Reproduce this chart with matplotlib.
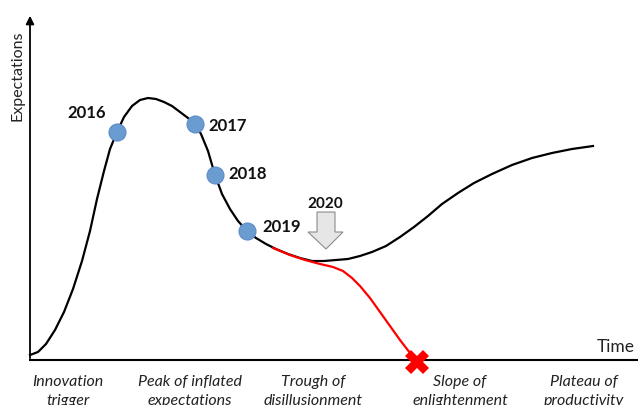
import matplotlib.pyplot as plt
from matplotlib.patches import Polygon

# curva do hype (coordenadas em pixels da figura)
curva_x = [30, 38, 46, 55, 64, 73, 82, 90, 97, 104, 110, 117, 124, 132, 140, 148, 156, 164, 172,
           180, 188, 195, 201, 208, 215, 222, 230, 238, 247, 256, 266, 276, 288, 300, 312, 324,
           336, 348, 360, 372, 386, 400, 414, 428, 442, 458, 474, 492, 512, 532, 552, 572, 593]
curva_y = [356, 353, 345, 331, 313, 290, 262, 232, 200, 172, 150, 133, 118, 107, 101, 99, 100, 103, 107,
           113, 119, 125, 135, 152, 176, 195, 210, 222, 232, 239, 245, 250, 255, 259, 262, 262,
           261, 260, 257, 253, 247, 238, 228, 217, 205, 194, 184, 175, 166, 159, 154, 150, 147]

# cenario alternativo (queda)
queda_x = [273, 290, 305, 320, 333, 343, 352, 360, 370, 380, 390, 400, 410, 417]
queda_y = [249, 256, 261, 265, 268, 272, 279, 287, 299, 313, 327, 341, 354, 363]

anos = ["2016", "2017", "2018", "2019"]
anos_x = [117, 195, 215, 247]
anos_y = [133, 125, 176, 232]
rot_x = [87, 228, 248, 282]
rot_y = [113, 126, 174, 227]

fases = ["Innovation\ntrigger", "Peak of inflated\nexpectations", "Trough of\ndisillusionment",
         "Slope of\nenlightenment", "Plateau of\nproductivity"]
fases_x = [68, 190, 313, 460, 584]

plt.rcParams['font.family'] = ['Lato', 'DejaVu Sans']

fig = plt.figure(figsize=(6.38, 4.06), dpi=100)
ax = fig.add_axes([0, 0, 1, 1])
ax.set_xlim(0, 638)
ax.set_ylim(406, 0)
ax.axis("off")

# eixos
ax.annotate("", xy=(30, 14), xytext=(30, 362),
            arrowprops=dict(arrowstyle="-|>", color="black", lw=1.3, mutation_scale=12))
ax.plot([29, 638], [361, 361], color="black", lw=1.5, solid_capstyle="butt")
ax.text(18, 76, "Expectations", rotation=90, ha="center", va="center", fontsize=11.5, color="#222222")
ax.text(635, 347, "Time", ha="right", va="center", fontsize=12.5, color="#222222")

# curvas
ax.plot(curva_x, curva_y, color="black", lw=1.6, zorder=2)
ax.plot(queda_x, queda_y, color="red", lw=1.6, zorder=3)
ax.plot(queda_x[-1], queda_y[-1], marker="X", color="red", markersize=17, zorder=4, mew=0)

# pontos dos anos
ax.scatter(anos_x, anos_y, s=150, color="#6a9bd1", edgecolor="#5b8cc4", lw=0.8, zorder=5)
for t, x, y in zip(anos, rot_x, rot_y):
    ax.text(x, y, t, ha="center", va="center", fontsize=12, fontweight="bold", color="#111111")

# seta 2020
seta = Polygon([(317, 213), (335, 213), (335, 233), (343, 233), (326, 250), (308, 233), (317, 233)],
               closed=True, facecolor="#e6e6e6", edgecolor="#8c8c8c", lw=0.8, zorder=3)
ax.add_patch(seta)
ax.text(325, 204, "2020", ha="center", va="center", fontsize=11, fontweight="bold", color="#111111")

# fases (segunda linha cortada pela borda, como no original)
for t, x in zip(fases, fases_x):
    ax.text(x, 375, t, ha="center", va="top", fontsize=11.5, style="italic",
            linespacing=1.45, color="#222222")

fig.savefig("out.png", dpi=100)
